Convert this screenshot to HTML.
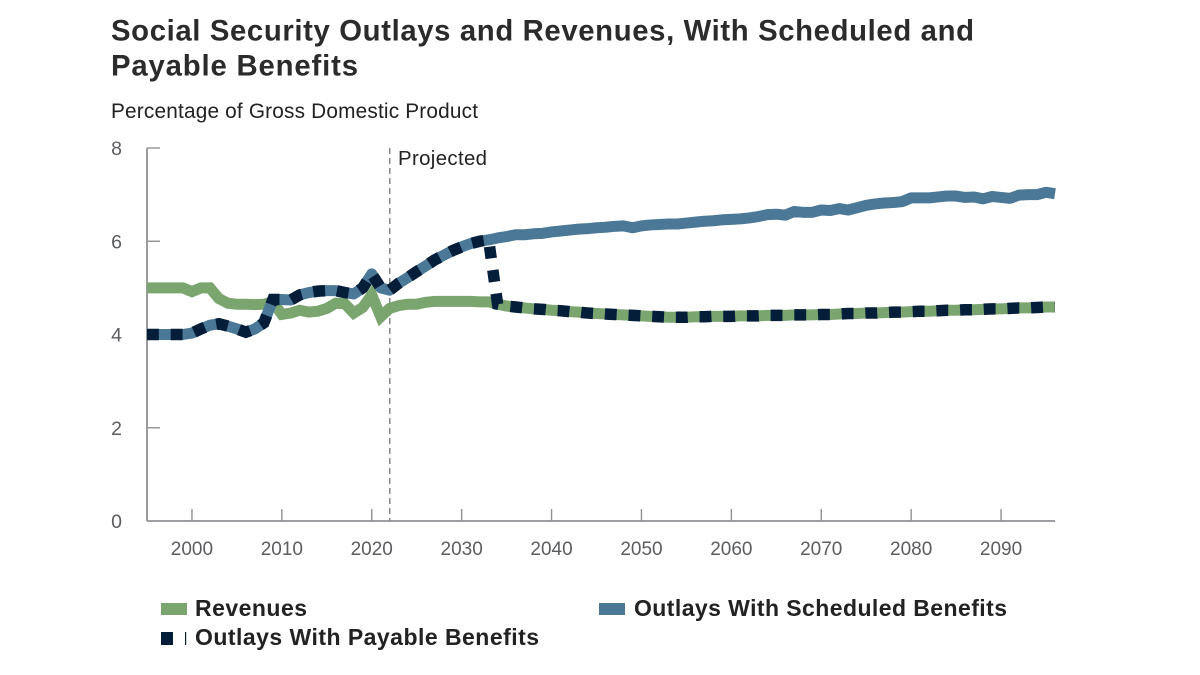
<!DOCTYPE html>
<html lang="en">
<head>
<meta charset="utf-8">
<title>Social Security Outlays and Revenues</title>
<style>
html,body{margin:0;padding:0;background:#fff;width:1200px;height:675px;overflow:hidden}
svg{display:block}
text{font-family:"Liberation Sans",Arial,sans-serif}
</style>
</head>
<body>
<svg id="chart" xmlns="http://www.w3.org/2000/svg" width="1200" height="675" viewBox="0 0 1200 675">
  <rect width="1200" height="675" fill="#fff"/>
  <text x="111" y="40.5" font-size="29.3" font-weight="700" fill="#2b2b2b" textLength="863" lengthAdjust="spacing">Social Security Outlays and Revenues, With Scheduled and</text>
  <text x="111" y="75.5" font-size="29.3" font-weight="700" fill="#2b2b2b" textLength="247" lengthAdjust="spacing">Payable Benefits</text>
  <text x="111" y="118" font-size="20.8" fill="#222" textLength="367" lengthAdjust="spacing">Percentage of Gross Domestic Product</text>
  <g id="axes"></g>
  <g id="series"></g>
  <text x="398" y="165" font-size="20.4" fill="#222" textLength="89" lengthAdjust="spacing">Projected</text>

  <g>
    <g>
      <rect x="161" y="603" width="26" height="12" fill="#7aa56f"/>
      <text x="195" y="616" font-size="23" font-weight="700" fill="#222" textLength="112" lengthAdjust="spacing">Revenues</text>
    </g>
    <g>
      <rect x="599" y="603" width="26" height="12" fill="#4a7896"/>
      <text x="634" y="616" font-size="23" font-weight="700" fill="#222" textLength="373" lengthAdjust="spacing">Outlays With Scheduled Benefits</text>
    </g>
    <g>
      <rect x="161" y="632" width="12" height="13" fill="#041e3a"/>
      <rect x="185" y="632" width="1.2" height="13" fill="#041e3a"/>
      <text x="195" y="645" font-size="23" font-weight="700" fill="#222" textLength="344" lengthAdjust="spacing">Outlays With Payable Benefits</text>
    </g>
  </g>
</svg>
<script>
const startYear = 1995;
const endYear = 2096;
const yTicks = [0, 2, 4, 6, 8];
const xTicks = [2000, 2010, 2020, 2030, 2040, 2050, 2060, 2070, 2080, 2090];
const projectedYear = 2022;

// One value per year, 1995 through 2096.
const revenues = [
  5.0,5.0,5.0,5.0,5.0,
  4.92,5.0,5.0,4.77,4.67,4.65,4.65,4.64,4.65,4.7,
  4.43,4.46,4.52,4.48,4.5,4.56,4.67,4.66,4.46,4.58,
  4.85,4.38,4.56,4.62,4.65,4.65,4.69,4.71,4.71,4.71,
  4.71,4.71,4.7,4.7,4.65,4.61,4.59,4.57,4.55,4.54,
  4.52,4.51,4.49,4.48,4.46,4.45,4.44,4.43,4.42,4.41,
  4.4,4.39,4.38,4.37,4.37,4.37,4.38,4.38,4.39,4.39,
  4.39,4.4,4.4,4.4,4.41,4.41,4.41,4.42,4.42,4.42,
  4.43,4.43,4.44,4.45,4.45,4.46,4.46,4.47,4.48,4.48,
  4.49,4.5,4.5,4.51,4.52,4.52,4.53,4.53,4.54,4.55,
  4.55,4.56,4.57,4.57,4.58,4.59,4.59
];
const scheduledOutlays = [
  4.0,4.0,4.0,4.0,4.0,
  4.03,4.12,4.2,4.23,4.18,4.12,4.05,4.12,4.25,4.75,
  4.75,4.74,4.85,4.9,4.93,4.94,4.94,4.9,4.87,5.0,
  5.3,5.0,4.95,5.1,5.22,5.35,5.47,5.6,5.7,5.8,
  5.88,5.95,6.0,6.03,6.07,6.1,6.14,6.14,6.16,6.17,
  6.2,6.22,6.24,6.26,6.27,6.29,6.3,6.32,6.33,6.29,
  6.33,6.35,6.36,6.37,6.37,6.39,6.41,6.43,6.44,6.46,
  6.47,6.48,6.5,6.53,6.57,6.58,6.56,6.64,6.62,6.62,
  6.67,6.66,6.7,6.67,6.72,6.77,6.8,6.82,6.83,6.85,
  6.93,6.93,6.93,6.95,6.97,6.97,6.94,6.95,6.91,6.96,
  6.94,6.92,6.99,7.0,7.0,7.05,7.02
];
const payableOutlays = [
  4.0,4.0,4.0,4.0,4.0,
  4.03,4.12,4.2,4.23,4.18,4.12,4.05,4.12,4.25,4.75,
  4.75,4.74,4.85,4.9,4.93,4.94,4.94,4.9,4.87,5.0,
  5.3,5.0,4.95,5.1,5.22,5.35,5.47,5.6,5.7,5.8,
  5.88,5.95,6.0,6.03,4.65,4.61,4.59,4.57,4.55,4.54,
  4.52,4.51,4.49,4.48,4.46,4.45,4.44,4.43,4.42,4.41,
  4.4,4.39,4.38,4.37,4.37,4.37,4.38,4.38,4.39,4.39,
  4.39,4.4,4.4,4.4,4.41,4.41,4.41,4.42,4.42,4.42,
  4.43,4.43,4.44,4.45,4.45,4.46,4.46,4.47,4.48,4.48,
  4.49,4.5,4.5,4.51,4.52,4.52,4.53,4.53,4.54,4.55,
  4.55,4.56,4.57,4.57,4.58,4.59,4.59
];

const NS = 'http://www.w3.org/2000/svg';
const plot = { left: 147, right: 1055, top: 148, bottom: 521 };
const axisColor = '#8f9194';
const tickText = '#5c5d60';

function xScale(year) {
  return plot.left + (year - startYear) * (plot.right - plot.left) / (endYear - startYear);
}
function yScale(value) {
  return plot.bottom - value * (plot.bottom - plot.top) / 8;
}
function make(tag, attrs, parent) {
  const el = document.createElementNS(NS, tag);
  for (const k in attrs) el.setAttribute(k, attrs[k]);
  parent.appendChild(el);
  return el;
}

const axes = document.getElementById('axes');
const seriesGroup = document.getElementById('series');

const yAxisLine = make('line', { x1: plot.left, x2: plot.left, y1: plot.top, y2: plot.bottom, stroke: axisColor, 'stroke-width': 1.8 }, axes);



const xAxisLine = make('line', { x1: plot.left, x2: plot.right, y1: plot.bottom, y2: plot.bottom, stroke: axisColor, 'stroke-width': 1.8 }, axes);



yTicks.forEach(function (t) {
  const y = yScale(t);
  if (t > 0) {
    const tick = make('line', { x1: plot.left, x2: plot.left + 13, y1: y, y2: y, stroke: axisColor, 'stroke-width': 1.4 }, axes);
    
    
  }
  const label = make('text', { x: 122, y: y + 7, 'text-anchor': 'end', 'font-size': 19.5, fill: tickText }, axes);
  label.textContent = String(t);
  
  
});

xTicks.forEach(function (t) {
  const x = xScale(t);
  const tick = make('line', { x1: x, x2: x, y1: plot.bottom - 12, y2: plot.bottom, stroke: axisColor, 'stroke-width': 1.4 }, axes);
  
  
  const label = make('text', { x: x, y: 555, 'text-anchor': 'middle', 'font-size': 19, fill: tickText }, axes);
  label.textContent = String(t);
  
  
});

const projectedLine = make('line', {
  x1: xScale(projectedYear), x2: xScale(projectedYear), y1: plot.top, y2: plot.bottom,
  stroke: '#85878a', 'stroke-width': 1.5, 'stroke-dasharray': '6 4'
}, axes);



function linePath(values) {
  return values.map(function (v, i) {
    return (i ? 'L' : 'M') + xScale(startYear + i).toFixed(2) + ' ' + yScale(v).toFixed(2);
  }).join(' ');
}

const revenuesLine = make('path', { d: linePath(revenues), fill: 'none', stroke: '#7aa56f', 'stroke-width': 11, 'stroke-linejoin': 'miter' }, seriesGroup);



const scheduledLine = make('path', { d: linePath(scheduledOutlays), fill: 'none', stroke: '#4a7896', 'stroke-width': 11, 'stroke-linejoin': 'round' }, seriesGroup);



const payableLine = make('path', { d: linePath(payableOutlays), fill: 'none', stroke: '#041e3a', 'stroke-width': 11.5, 'stroke-dasharray': '11.85 11.85', 'stroke-linejoin': 'miter' }, seriesGroup);


</script>
</body>
</html>
